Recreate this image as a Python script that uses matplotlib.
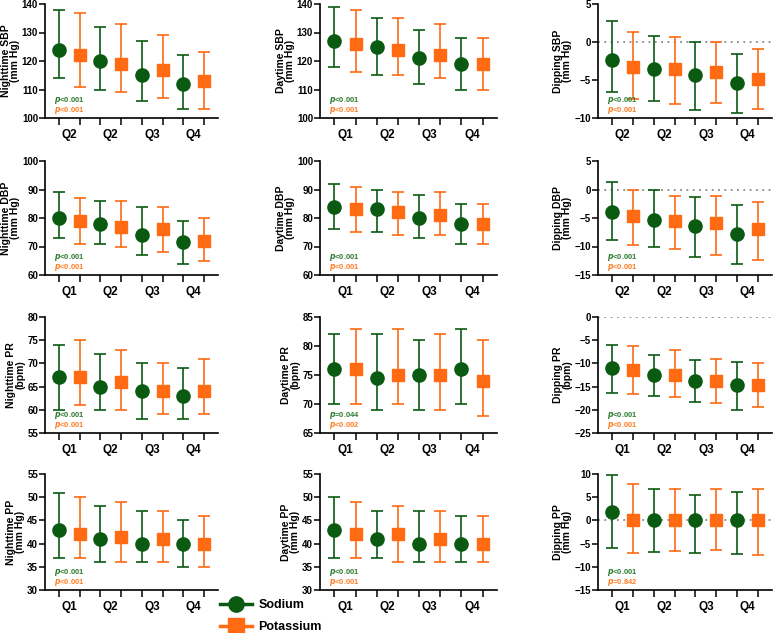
import numpy as np
import matplotlib
matplotlib.use('Agg')
import matplotlib.pyplot as plt
from matplotlib.lines import Line2D

plt.rcParams['font.family'] = ['Liberation Sans', 'DejaVu Sans']
plt.rcParams['font.weight'] = 'bold'

GREEN = '#0a5a12'
ORANGE = '#ff6a13'
P_GREEN = '#2e7d32'
P_ORANGE = '#ff7f27'

# panel titles, axis ranges and tick steps
ylabels = ['Nighttime SBP\n(mm Hg)', 'Daytime SBP\n(mm Hg)', 'Dipping SBP\n(mm Hg)',
           'Nighttime DBP\n(mm Hg)', 'Daytime DBP\n(mm Hg)', 'Dipping DBP\n(mm Hg)',
           'Nighttime PR\n(bpm)', 'Daytime PR\n(bpm)', 'Dipping PR\n(bpm)',
           'Nighttime PP\n(mm Hg)', 'Daytime PP\n(mm Hg)', 'Dipping PP\n(mm Hg)']
ylims = [(100, 140), (100, 140), (-10, 5),
         (60, 100), (60, 100), (-15, 5),
         (55, 80), (65, 85), (-25, 0),
         (30, 55), (30, 55), (-15, 10)]
ysteps = [10, 10, 5, 10, 10, 5, 5, 5, 5, 5, 5, 5]
dipping = [False, False, True] * 4

qlabels_a = ['Q2', 'Q2', 'Q3', 'Q4']
qlabels_b = ['Q1', 'Q2', 'Q3', 'Q4']
xlabels = [qlabels_a, qlabels_b, qlabels_a,
           qlabels_b, qlabels_b, qlabels_a,
           qlabels_b, qlabels_b, qlabels_b,
           qlabels_b, qlabels_b, qlabels_b]

p_sodium = ['<0.001'] * 7 + ['=0.044'] + ['<0.001'] * 4
p_potassium = ['<0.001'] * 7 + ['<0.002'] + ['<0.001'] * 3 + ['=0.842']

# sodium: mean, lower, upper per quartile
na_mean = [[124, 120, 115, 112], [127, 125, 121, 119], [-2.4, -3.5, -4.4, -5.4],
           [80, 78, 74, 71.5], [84, 83, 80, 78], [-4.0, -5.35, -6.4, -7.8],
           [67, 65, 64, 63], [76, 74.5, 75, 76], [-11.0, -12.5, -13.7, -14.7],
           [43, 41, 40, 40], [43, 41, 40, 40], [1.8, 0, 0, 0]]
na_low = [[114, 110, 106, 103], [118, 115, 112, 110], [-6.55, -7.7, -8.9, -9.4],
          [73, 71, 67, 64], [76, 75, 73, 71], [-8.8, -10.0, -11.9, -13.0],
          [60, 60, 58, 58], [70, 69, 69, 70], [-16.3, -17.0, -18.3, -20.0],
          [37, 36, 36, 35], [37, 37, 36, 36], [-6.0, -6.8, -7.0, -7.2]]
na_high = [[138, 132, 127, 122], [139, 135, 131, 128], [2.7, 0.8, 0, -1.6],
           [89, 86, 84, 79], [92, 90, 88, 85], [1.3, 0, -1.3, -2.8],
           [74, 72, 70, 69], [82, 82, 81, 83], [-6.0, -8.2, -9.2, -9.6],
           [51, 48, 47, 45], [50, 47, 47, 46], [9.7, 6.7, 5.5, 6.1]]

# potassium: mean, lower, upper per quartile
k_mean = [[122, 119, 117, 113], [126, 124, 122, 119], [-3.3, -3.5, -4.0, -4.85],
          [79, 77, 76, 72], [83, 82, 81, 78], [-4.7, -5.6, -5.9, -6.9],
          [67, 66, 64, 64], [76, 75, 75, 74], [-11.4, -12.6, -13.7, -14.7],
          [42, 41.5, 41, 40], [42, 42, 41, 40], [0, 0, 0, 0]]
k_low = [[111, 109, 107, 103], [116, 115, 114, 110], [-7.5, -8.1, -8.0, -8.8],
         [71, 70, 68, 65], [75, 74, 74, 71], [-9.8, -10.5, -11.45, -12.3],
         [61, 60, 59, 59], [70, 70, 69, 68], [-16.5, -17.2, -18.5, -19.3],
         [37, 36, 36, 35], [37, 36, 36, 36], [-7.1, -6.7, -6.3, -7.4]]
k_high = [[137, 133, 129, 123], [138, 135, 133, 128], [1.35, 0.7, 0, -0.9],
          [87, 86, 84, 80], [91, 89, 89, 85], [0, -1.1, -1.2, -2.2],
          [75, 72.8, 70, 71], [83, 83, 82, 81], [-6.3, -7.2, -9.1, -9.9],
          [50, 49, 47, 46], [49, 48, 47, 46], [7.8, 6.8, 6.7, 6.7]]

fig = plt.figure(figsize=(7.74, 6.33), dpi=100)

col_left = [45, 320, 598]
col_width = [173, 177, 174]
row_top = [4, 161, 317, 474]
row_height = [114, 114, 116, 116]
W, H = 774, 633

for i in range(12):
    r, c = divmod(i, 3)
    ax = fig.add_axes([col_left[c] / W, 1 - (row_top[r] + row_height[r]) / H,
                       col_width[c] / W, row_height[r] / H])
    xs_na = np.arange(4) * 2
    xs_k = np.arange(4) * 2 + 1
    if dipping[i]:
        ax.axhline(0, color='#888888', lw=1.3, ls=(0, (1, 2.5)), zorder=1)
    m = np.array(na_mean[i])
    ax.errorbar(xs_na, m, yerr=[m - np.array(na_low[i]), np.array(na_high[i]) - m],
                fmt='o', color=GREEN, ms=9.5, capsize=4.5, elinewidth=1.2,
                capthick=1.2, zorder=3, clip_on=False)
    m = np.array(k_mean[i])
    ax.errorbar(xs_k, m, yerr=[m - np.array(k_low[i]), np.array(k_high[i]) - m],
                fmt='s', color=ORANGE, ms=8.5, capsize=4.5, elinewidth=1.2,
                capthick=1.2, zorder=3, clip_on=False)

    ax.set_xlim(-0.68, 7.68)
    ax.set_ylim(*ylims[i])
    ax.set_yticks(np.arange(ylims[i][0], ylims[i][1] + 0.1, ysteps[i]))
    ax.set_xticks(np.arange(8))
    ax.set_xticklabels([])
    ax.set_xticks(np.arange(4) * 2 + 0.5, minor=True)
    ax.set_xticklabels(xlabels[i], minor=True, fontsize=8.5, fontweight='bold')
    ax.tick_params(axis='x', which='minor', length=0, pad=8)
    ax.tick_params(axis='x', which='major', length=5, width=1.1)
    ax.tick_params(axis='y', length=4, width=1.1, labelsize=7, pad=1)
    for lab in ax.get_yticklabels():
        lab.set_fontweight('bold')
    for s in ['top', 'right']:
        ax.spines[s].set_visible(False)
    for s in ['left', 'bottom']:
        ax.spines[s].set_linewidth(1.2)
    ax.set_ylabel(ylabels[i], fontsize=7.5, fontweight='bold', labelpad=1.5, linespacing=0.9)

    ax.text(0.05, 0.15, r'$\mathbfit{p}$' + p_sodium[i], transform=ax.transAxes,
            fontsize=5.5, color=P_GREEN, fontweight='bold', ha='left', va='center')
    ax.text(0.05, 0.065, r'$\mathbfit{p}$' + p_potassium[i], transform=ax.transAxes,
            fontsize=5.5, color=P_ORANGE, fontweight='bold', ha='left', va='center')

handles = [Line2D([], [], color=GREEN, marker='o', ms=11, lw=2.5),
           Line2D([], [], color=ORANGE, marker='s', ms=11, lw=2.5)]
fig.legend(handles, ['Sodium', 'Potassium'], loc='upper left',
           bbox_to_anchor=(212 / W, 1 - 592 / H), frameon=False,
           prop={'size': 9, 'weight': 'bold'}, handlelength=2.6,
           labelspacing=0.75, handletextpad=0.5, borderaxespad=0.2)

fig.savefig('out.png', dpi=100)
